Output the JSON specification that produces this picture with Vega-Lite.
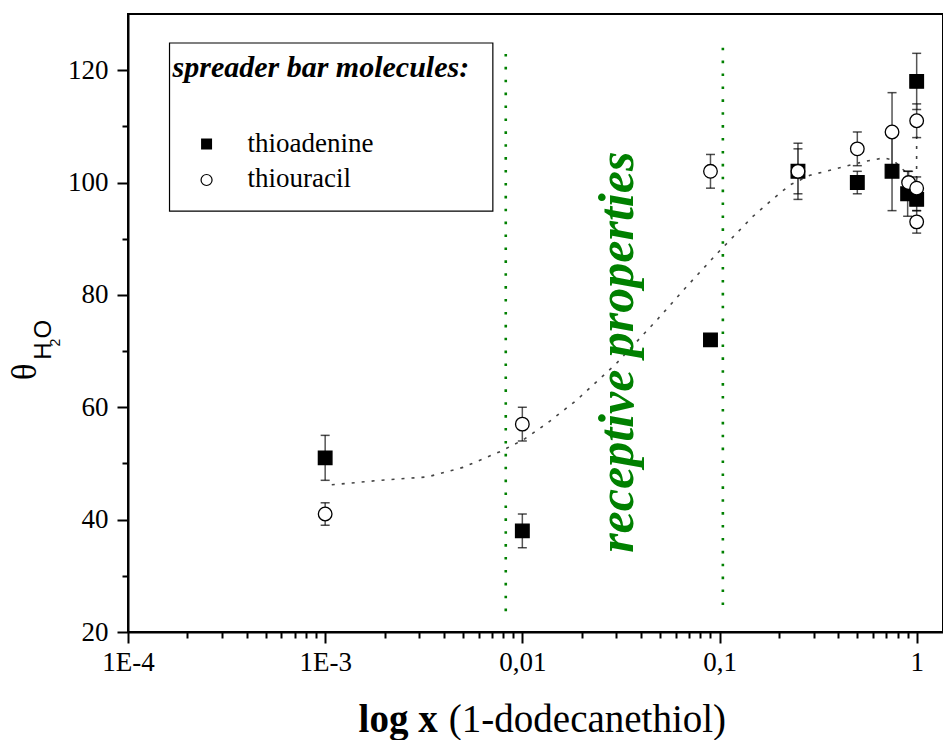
{
"$schema": "https://vega.github.io/schema/vega-lite/v6.json",
"width": 815,
"height": 618,
"autosize": "none",
"padding": {"left": 128, "top": 14, "right": 0, "bottom": 108},
"background": "white",
"config": {
  "view": {"stroke": "black", "strokeWidth": 2},
  "style": {"guide-label": {"font": "Liberation Serif", "fill": "black"}},
  "axis": {"grid": false, "domainColor": "black", "domainWidth": 2, "tickColor": "black", "tickWidth": 2, "labelColor": "black", "labelFont": "Liberation Serif", "labelFontSize": 27}
},
"datasets": {
  "guides": [{"x": 0.00824, "top": 122.9, "bottom": 23.6}, {"x": 0.104, "top": 124.0, "bottom": 24.7}],
  "fit": [
    {"i": 1, "x": 0.00108, "y": 46.2}, {"i": 2, "x": 0.0019, "y": 47.0}, {"i": 3, "x": 0.0033, "y": 47.6},
    {"i": 4, "x": 0.005, "y": 49.3}, {"i": 5, "x": 0.0077, "y": 52.1}, {"i": 6, "x": 0.0101, "y": 54.2},
    {"i": 7, "x": 0.0133, "y": 57.1}, {"i": 8, "x": 0.0189, "y": 61.3}, {"i": 9, "x": 0.03, "y": 67.8},
    {"i": 10, "x": 0.0489, "y": 75.8}, {"i": 11, "x": 0.065, "y": 80.7}, {"i": 12, "x": 0.0968, "y": 87.3},
    {"i": 13, "x": 0.147, "y": 93.9}, {"i": 14, "x": 0.184, "y": 96.9}, {"i": 15, "x": 0.228, "y": 99.6},
    {"i": 16, "x": 0.288, "y": 101.3}, {"i": 17, "x": 0.394, "y": 102.5}, {"i": 18, "x": 0.537, "y": 103.7},
    {"i": 19, "x": 0.68, "y": 104.4}, {"i": 20, "x": 0.76, "y": 104.0}, {"i": 21, "x": 0.84, "y": 102.5},
    {"i": 22, "x": 0.927, "y": 101.2}, {"i": 23, "x": 0.999, "y": 100.3}, {"i": 24, "x": 1.0, "y": 109.2}
  ],
  "points": [
    {"series": "thioadenine", "x": 0.001, "y": 51, "lo": 47, "hi": 55},
    {"series": "thioadenine", "x": 0.01, "y": 38, "lo": 35, "hi": 41},
    {"series": "thioadenine", "x": 0.09, "y": 72, "lo": 71, "hi": 73},
    {"series": "thioadenine", "x": 0.25, "y": 102, "lo": 98, "hi": 106},
    {"series": "thioadenine", "x": 0.5, "y": 100, "lo": 98, "hi": 102},
    {"series": "thioadenine", "x": 0.75, "y": 102, "lo": 95, "hi": 109},
    {"series": "thioadenine", "x": 0.9, "y": 98, "lo": 94, "hi": 102},
    {"series": "thioadenine", "x": 1.0, "y": 118, "lo": 113, "hi": 123},
    {"series": "thioadenine", "x": 1.0, "y": 97, "lo": 95, "hi": 99},
    {"series": "thiouracil", "x": 0.001, "y": 41, "lo": 39, "hi": 43},
    {"series": "thiouracil", "x": 0.01, "y": 57, "lo": 54, "hi": 60},
    {"series": "thiouracil", "x": 0.09, "y": 102, "lo": 99, "hi": 105},
    {"series": "thiouracil", "x": 0.25, "y": 102, "lo": 97, "hi": 107},
    {"series": "thiouracil", "x": 0.5, "y": 106, "lo": 103, "hi": 109},
    {"series": "thiouracil", "x": 0.75, "y": 109, "lo": 102, "hi": 116},
    {"series": "thiouracil", "x": 0.91, "y": 100, "lo": 98, "hi": 102},
    {"series": "thiouracil", "x": 1.0, "y": 111, "lo": 108, "hi": 114},
    {"series": "thiouracil", "x": 1.0, "y": 99, "lo": 97, "hi": 101},
    {"series": "thiouracil", "x": 1.0, "y": 93, "lo": 91, "hi": 95}
  ]
},
"layer": [
  {
    "data": {"name": "guides"},
    "mark": {"type": "rule", "color": "#008000", "strokeWidth": 2.6, "strokeDash": [2.6, 10.3], "strokeCap": "butt"},
    "encoding": {
      "x": {"field": "x", "type": "quantitative",
        "scale": {"type": "log", "domain": [0.0001, 1.36], "nice": false},
        "axis": {"title": null, "labelFont": "Liberation Serif", "labelFontSize": 27, "labelColor": "black",
          "values": [0.0001,0.0002,0.0003,0.0004,0.0005,0.0006,0.0007,0.0008,0.0009,0.001,0.002,0.003,0.004,0.005,0.006,0.007,0.008,0.009,0.01,0.02,0.03,0.04,0.05,0.06,0.07,0.08,0.09,0.1,0.2,0.3,0.4,0.5,0.6,0.7,0.8,0.9,1],
          "labelExpr": "abs(log(datum.value)/LN10 - round(log(datum.value)/LN10)) < 0.001 ? (datum.value < 0.0005 ? '1E-4' : datum.value < 0.005 ? '1E-3' : datum.value < 0.05 ? '0,01' : datum.value < 0.5 ? '0,1' : '1') : ''",
          "labelOverlap": false, "labelFlush": false, "labelPadding": 6,
          "tickSize": {"condition": {"test": "abs(log(datum.value)/LN10 - round(log(datum.value)/LN10)) < 0.001", "value": 11}, "value": 6}
        }
      },
      "y": {"field": "top", "type": "quantitative",
        "scale": {"domain": [20, 130], "nice": false, "zero": false},
        "axis": {"title": null, "labelFont": "Liberation Serif", "labelFontSize": 27, "labelColor": "black",
          "values": [20,30,40,50,60,70,80,90,100,110,120],
          "labelExpr": "datum.value % 20 == 0 ? datum.label : ''",
          "labelOverlap": false, "labelPadding": 9,
          "tickSize": {"condition": {"test": "datum.value % 20 == 0", "value": 11}, "value": 6}
        }
      },
      "y2": {"field": "bottom"}
    }
  },
  {
    "data": {"values": [{}]},
    "mark": {"type": "rect", "fill": "white", "stroke": "black", "strokeWidth": 1.2},
    "encoding": {
      "x": {"datum": 0.0001624, "type": "quantitative"}, "x2": {"datum": 0.007087},
      "y": {"datum": 124.84, "type": "quantitative"}, "y2": {"datum": 94.93}
    }
  },
  {
    "data": {"name": "fit"},
    "mark": {"type": "line", "color": "#444444", "strokeWidth": 1.6, "strokeDash": [3, 7], "interpolate": "linear"},
    "encoding": {
      "x": {"field": "x", "type": "quantitative"},
      "y": {"field": "y", "type": "quantitative"},
      "order": {"field": "i", "type": "quantitative"}
    }
  },
  {
    "data": {"name": "points"},
    "mark": {"type": "rule", "color": "#555555", "strokeWidth": 1.5},
    "encoding": {
      "x": {"field": "x", "type": "quantitative"},
      "y": {"field": "lo", "type": "quantitative"},
      "y2": {"field": "hi"}
    }
  },
  {
    "data": {"name": "points"},
    "mark": {"type": "tick", "orient": "horizontal", "color": "black", "size": 9, "thickness": 1.5},
    "encoding": {
      "x": {"field": "x", "type": "quantitative"},
      "y": {"field": "lo", "type": "quantitative"}
    }
  },
  {
    "data": {"name": "points"},
    "mark": {"type": "tick", "orient": "horizontal", "color": "black", "size": 9, "thickness": 1.5},
    "encoding": {
      "x": {"field": "x", "type": "quantitative"},
      "y": {"field": "hi", "type": "quantitative"}
    }
  },
  {
    "data": {"name": "points"},
    "mark": {"type": "point", "filled": false, "stroke": "black", "strokeWidth": 1.3, "size": 185, "opacity": 1, "fillOpacity": 1},
    "encoding": {
      "x": {"field": "x", "type": "quantitative"},
      "y": {"field": "y", "type": "quantitative"},
      "shape": {"field": "series", "type": "nominal",
        "scale": {"domain": ["thioadenine", "thiouracil"], "range": ["square", "circle"]}, "legend": null},
      "fill": {"field": "series", "type": "nominal",
        "scale": {"domain": ["thioadenine", "thiouracil"], "range": ["black", "white"]}, "legend": null}
    }
  },
  {
    "data": {"values": [{}]},
    "mark": {"type": "text", "text": "spreader bar molecules:", "font": "Liberation Serif", "fontSize": 30, "fontStyle": "italic", "fontWeight": "bold", "color": "black", "align": "left", "baseline": "alphabetic"},
    "encoding": {"x": {"datum": 0.0001682, "type": "quantitative"}, "y": {"datum": 118.8, "type": "quantitative"}}
  },
  {
    "data": {"values": [{}]},
    "mark": {"type": "point", "shape": "square", "filled": true, "color": "black", "size": 121, "opacity": 1},
    "encoding": {"x": {"datum": 0.0002503, "type": "quantitative"}, "y": {"datum": 106.86, "type": "quantitative"}}
  },
  {
    "data": {"values": [{}]},
    "mark": {"type": "point", "shape": "circle", "filled": false, "fill": "white", "stroke": "black", "strokeWidth": 1.2, "size": 121, "opacity": 1},
    "encoding": {"x": {"datum": 0.0002503, "type": "quantitative"}, "y": {"datum": 100.45, "type": "quantitative"}}
  },
  {
    "data": {"values": [{}]},
    "mark": {"type": "text", "text": "thioadenine", "font": "Liberation Serif", "fontSize": 27, "color": "black", "align": "left", "baseline": "alphabetic"},
    "encoding": {"x": {"datum": 0.0004042, "type": "quantitative"}, "y": {"datum": 105.52, "type": "quantitative"}}
  },
  {
    "data": {"values": [{}]},
    "mark": {"type": "text", "text": "thiouracil", "font": "Liberation Serif", "fontSize": 27, "color": "black", "align": "left", "baseline": "alphabetic"},
    "encoding": {"x": {"datum": 0.0004042, "type": "quantitative"}, "y": {"datum": 99.12, "type": "quantitative"}}
  },
  {
    "data": {"values": [{}]},
    "mark": {"type": "text", "text": "receptive properties", "angle": 270, "font": "Liberation Serif", "fontSize": 50, "fontStyle": "italic", "fontWeight": "bold", "color": "#008000", "align": "center", "baseline": "alphabetic"},
    "encoding": {"x": {"datum": 0.0365, "type": "quantitative"}, "y": {"datum": 69.8, "type": "quantitative"}}
  },
  {
    "data": {"values": [{}]},
    "mark": {"type": "text", "text": "θ", "angle": 270, "font": "Liberation Serif", "fontSize": 35, "color": "black", "align": "center", "baseline": "alphabetic"},
    "encoding": {"x": {"datum": 0.0000343, "type": "quantitative"}, "y": {"datum": 66.3, "type": "quantitative"}}
  },
  {
    "data": {"values": [{}]},
    "mark": {"type": "text", "text": "H", "angle": 270, "font": "Liberation Sans", "fontSize": 24, "color": "black", "align": "center", "baseline": "alphabetic"},
    "encoding": {"x": {"datum": 0.0000405, "type": "quantitative"}, "y": {"datum": 70.0, "type": "quantitative"}}
  },
  {
    "data": {"values": [{}]},
    "mark": {"type": "text", "text": "2", "angle": 270, "font": "Liberation Sans", "fontSize": 14, "color": "black", "align": "center", "baseline": "alphabetic"},
    "encoding": {"x": {"datum": 0.0000452, "type": "quantitative"}, "y": {"datum": 71.5, "type": "quantitative"}}
  },
  {
    "data": {"values": [{}]},
    "mark": {"type": "text", "text": "O", "angle": 270, "font": "Liberation Sans", "fontSize": 24, "color": "black", "align": "center", "baseline": "alphabetic"},
    "encoding": {"x": {"datum": 0.0000405, "type": "quantitative"}, "y": {"datum": 73.9, "type": "quantitative"}}
  },
  {
    "data": {"values": [{}]},
    "mark": {"type": "text", "text": "log x", "font": "Liberation Serif", "fontSize": 39, "fontWeight": "bold", "color": "black", "align": "right", "baseline": "alphabetic"},
    "encoding": {"x": {"datum": 0.00372, "type": "quantitative"}, "y": {"datum": 2.25, "type": "quantitative"}}
  },
  {
    "data": {"values": [{}]},
    "mark": {"type": "text", "text": "(1-dodecanethiol)", "font": "Liberation Serif", "fontSize": 39, "color": "black", "align": "left", "baseline": "alphabetic"},
    "encoding": {"x": {"datum": 0.00424, "type": "quantitative"}, "y": {"datum": 2.25, "type": "quantitative"}}
  }
]
}
